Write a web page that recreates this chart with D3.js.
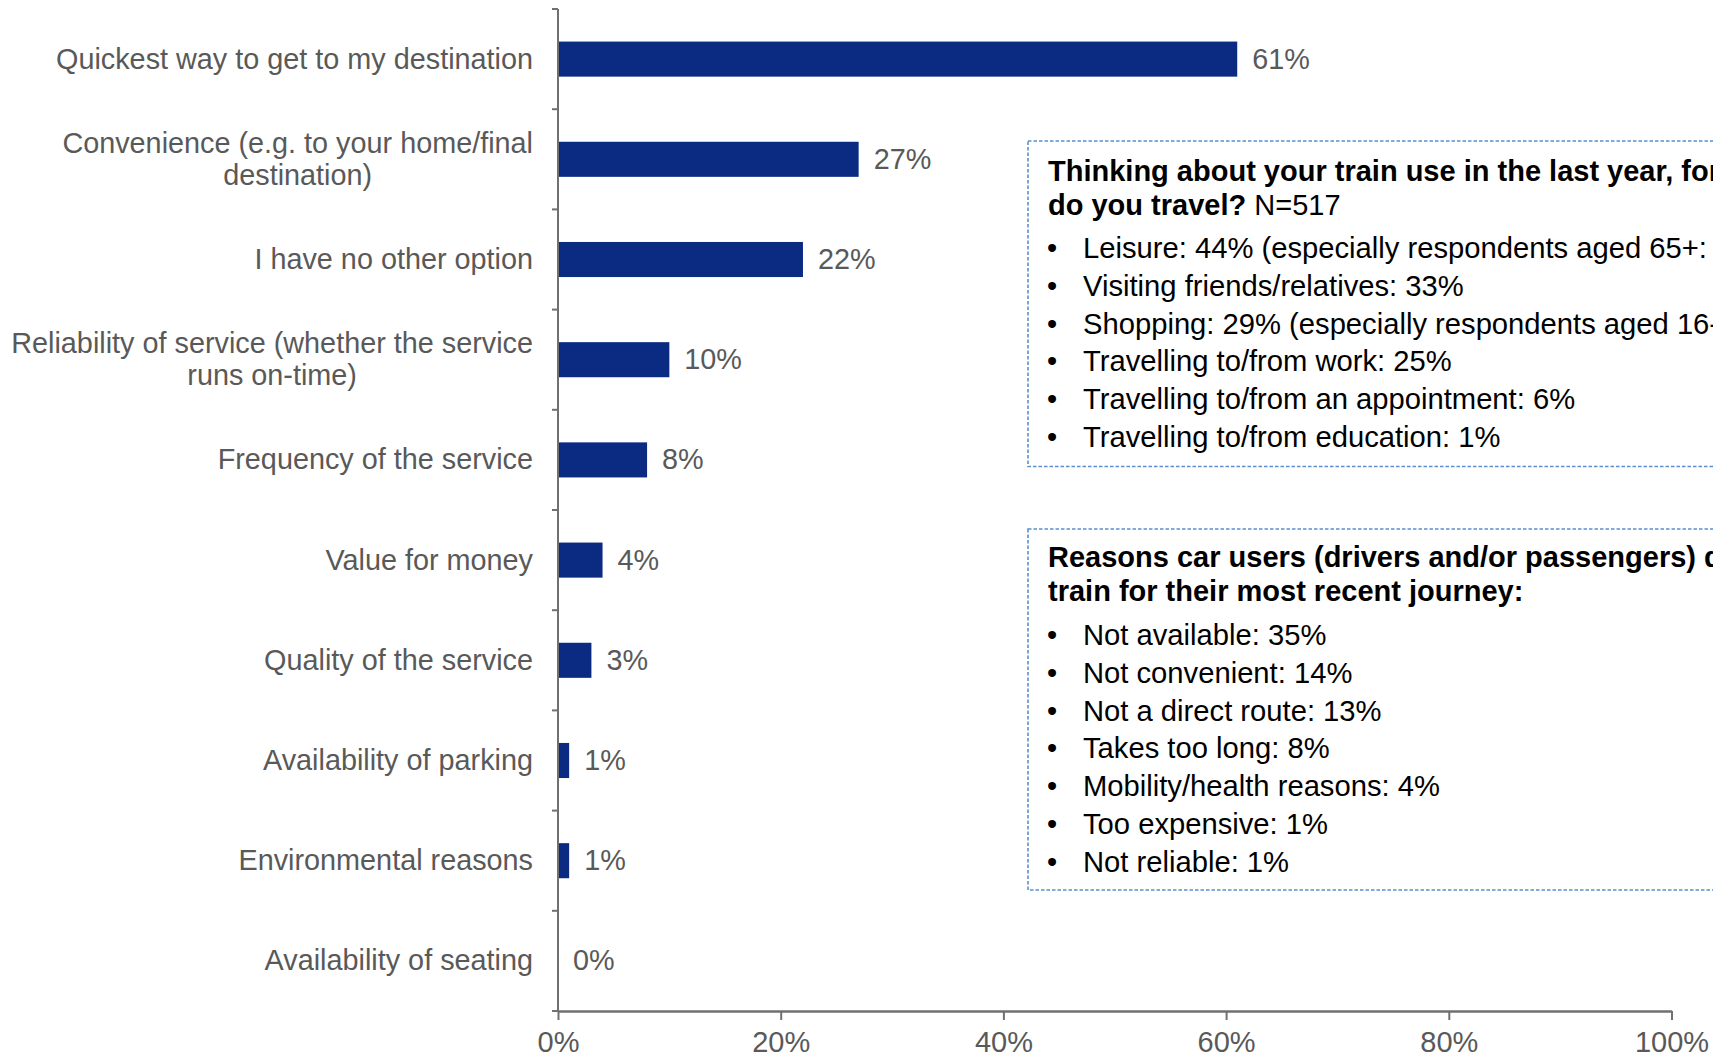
<!DOCTYPE html>
<html>
<head>
<meta charset="utf-8">
<script src="https://cdn.jsdelivr.net/npm/d3@7"></script>
<style>
  html, body { margin: 0; padding: 0; background: #ffffff; }
  svg { display: block; font-family: "Liberation Sans", Arial, sans-serif; }
</style>
</head>
<body>
<svg id="chart" width="1713" height="1058"></svg>
<script>
// Reasons for choosing the train (share of respondents)
const categories = [
  "Quickest way to get to my destination",
  "Convenience (e.g. to your home/final\ndestination)",
  "I have no other option",
  "Reliability of service (whether the service\nruns on-time)",
  "Frequency of the service",
  "Value for money",
  "Quality of the service",
  "Availability of parking",
  "Environmental reasons",
  "Availability of seating"
];
const values = [61, 27, 22, 10, 8, 4, 3, 1, 1, 0];
const xTicks = [0, 20, 40, 60, 80, 100];

// Side notes
const purposeTitleBold = ["Thinking about your train use in the last year, for what purposes", "do you travel?"];
const purposeTitleTail = " N=517";
const purposeItems = [
  "Leisure: 44% (especially respondents aged 65+: 69%)",
  "Visiting friends/relatives: 33%",
  "Shopping: 29% (especially respondents aged 16-24: 47%)",
  "Travelling to/from work: 25%",
  "Travelling to/from an appointment: 6%",
  "Travelling to/from education: 1%"
];
const carTitleBold = ["Reasons car users (drivers and/or passengers) did not use the", "train for their most recent journey:"];
const carItems = [
  "Not available: 35%",
  "Not convenient: 14%",
  "Not a direct route: 13%",
  "Takes too long: 8%",
  "Mobility/health reasons: 4%",
  "Too expensive: 1%",
  "Not reliable: 1%"
];

const svg = d3.select("#chart");
const barColor = "#0b2a82";
const axisColor = "#707070";
const labelColor = "#595959";

const x = d3.scaleLinear().domain([0, 100]).range([558, 1671.5]);
const y = d3.scaleBand().domain(categories).range([9, 1011])
  .paddingInner(0.65).paddingOuter(0.325);

const plotTop = y.range()[0], plotBottom = y.range()[1];

// Bars
svg.append("g").selectAll("rect")
  .data(categories)
  .join("rect")
  .attr("x", x(0))
  .attr("y", d => y(d))
  .attr("width", (d, i) => x(values[i]) - x(0))
  .attr("height", y.bandwidth())
  .attr("fill", barColor);

// Value labels
svg.append("g").selectAll("text")
  .data(categories)
  .join("text")
  .attr("x", (d, i) => x(values[i]) + 15)
  .attr("y", d => y(d) + y.bandwidth() / 2)
  .attr("dy", "0.33em")
  .attr("font-size", 28.8)
  .attr("fill", labelColor)
  .text((d, i) => values[i] + "%");

// Vertical category axis with ticks on band boundaries
const yAxis = svg.append("g");
yAxis.append("line")
  .attr("x1", x(0)).attr("x2", x(0))
  .attr("y1", plotTop).attr("y2", plotBottom)
  .attr("stroke", axisColor).attr("stroke-width", 2);
yAxis.selectAll("line.tick")
  .data(d3.range(categories.length + 1))
  .join("line")
  .attr("class", "tick")
  .attr("x1", x(0) - 6).attr("x2", x(0))
  .attr("y1", i => plotTop + i * y.step())
  .attr("y2", i => plotTop + i * y.step())
  .attr("stroke", axisColor).attr("stroke-width", 2);

// Category labels: right-aligned block, wrapped lines centred within it
const lineGap = 32.5;
const labelRight = 533;
svg.append("g").selectAll("text")
  .data(categories)
  .join("text")
  .attr("font-size", 28.8)
  .attr("fill", labelColor)
  .each(function (d) {
    const lines = d.split("\n");
    const cy = y(d) + y.bandwidth() / 2;
    const first = cy - (lines.length - 1) * lineGap / 2;
    const sel = d3.select(this);
    const spans = sel.selectAll("tspan")
      .data(lines)
      .join("tspan")
      .attr("y", (l, k) => first + k * lineGap)
      .attr("dy", "0.33em")
      .text(l => l);
    if (lines.length === 1) {
      sel.attr("text-anchor", "end");
      spans.attr("x", labelRight);
    } else {
      let maxW = 0;
      spans.each(function () { maxW = Math.max(maxW, this.getComputedTextLength()); });
      sel.attr("text-anchor", "middle");
      spans.attr("x", labelRight - maxW / 2);
    }
  });

// Horizontal percentage axis
const xAxis = svg.append("g")
  .attr("transform", `translate(0,${plotBottom})`)
  .call(d3.axisBottom(x).tickValues(xTicks).tickFormat(d => d + "%")
    .tickSize(9).tickSizeOuter(0).tickPadding(11));
xAxis.select(".domain").attr("stroke", axisColor).attr("stroke-width", 2.5);
xAxis.selectAll(".tick line").attr("stroke", axisColor).attr("stroke-width", 2);
xAxis.selectAll(".tick text")
  .attr("font-family", "'Liberation Sans', Arial, sans-serif")
  .attr("font-size", 29)
  .attr("fill", labelColor);

// Note boxes
function noteBox(top, bottom, titleBold, titleTail, items, titleY, itemY0) {
  const g = svg.append("g");
  g.append("rect")
    .attr("x", 1028).attr("y", top)
    .attr("width", 760).attr("height", bottom - top)
    .attr("fill", "none")
    .attr("stroke", "#5a8fd0")
    .attr("stroke-width", 1.6)
    .attr("stroke-dasharray", "3.5 2");
  titleBold.forEach((t, k) => {
    const txt = g.append("text")
      .attr("x", 1048).attr("y", titleY + k * 34)
      .attr("font-size", 29).attr("fill", "#000");
    txt.append("tspan").attr("font-weight", "bold").text(t);
    if (k === titleBold.length - 1 && titleTail) txt.append("tspan").text(titleTail);
  });
  items.forEach((t, k) => {
    const by = itemY0 + k * 37.8;
    g.append("text").attr("x", 1047).attr("y", by)
      .attr("font-size", 29).attr("fill", "#000").text("•");
    g.append("text").attr("x", 1083).attr("y", by)
      .attr("font-size", 29.2).attr("fill", "#000").text(t);
  });
}
noteBox(141, 466.5, purposeTitleBold, purposeTitleTail, purposeItems, 181, 258);
noteBox(529, 890, carTitleBold, "", carItems, 567, 645);
</script>
</body>
</html>
